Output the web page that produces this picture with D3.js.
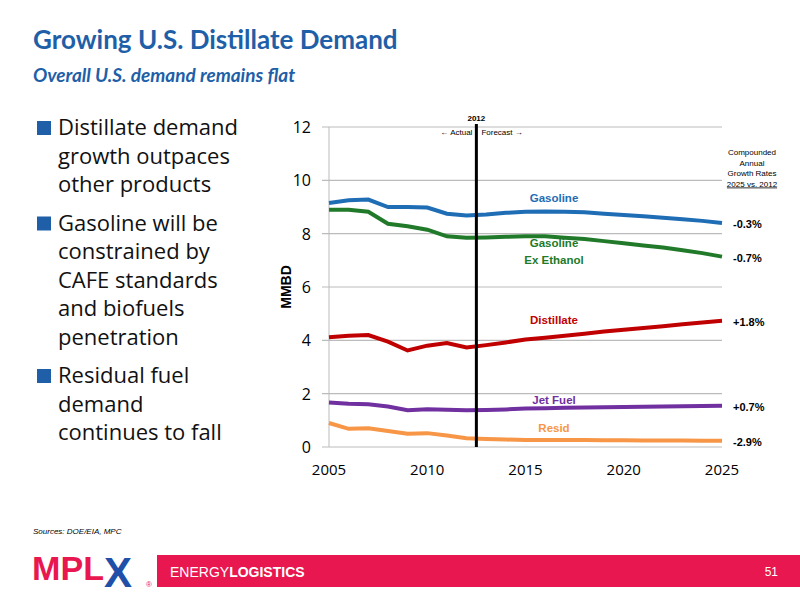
<!DOCTYPE html>
<html><head><meta charset="utf-8">
<script src="https://cdn.jsdelivr.net/npm/d3@7"></script>
<style>body{margin:0;background:#fff}</style></head>
<body><svg id="c" width="800" height="600"></svg>
<script>
const years = d3.range(2005, 2026);
const gasoline = [9.15,9.25,9.28,9.0,9.0,8.98,8.75,8.68,8.72,8.78,8.82,8.83,8.82,8.80,8.75,8.70,8.65,8.60,8.54,8.48,8.40];
const gasolineExEthanol = [8.9,8.9,8.82,8.37,8.28,8.15,7.9,7.85,7.86,7.88,7.9,7.9,7.85,7.8,7.72,7.64,7.56,7.48,7.38,7.27,7.14];
const distillate = [4.12,4.17,4.2,3.95,3.62,3.8,3.9,3.73,3.82,3.92,4.03,4.1,4.17,4.25,4.33,4.4,4.46,4.53,4.6,4.67,4.73];
const jetFuel = [1.67,1.62,1.6,1.52,1.38,1.42,1.4,1.38,1.39,1.41,1.44,1.45,1.47,1.48,1.49,1.5,1.51,1.52,1.53,1.54,1.55];
const resid = [0.9,0.68,0.7,0.6,0.5,0.52,0.43,0.33,0.3,0.28,0.26,0.26,0.26,0.26,0.25,0.25,0.24,0.24,0.24,0.23,0.23];
const yTicks = [0,2,4,6,8,10,12];
const xTicks = [2005,2010,2015,2020,2025];
const series = [
 {name:["Gasoline"], v:gasoline, c:"#1f6db5", rate:"-0.3%", lab:9.2},
 {name:["Gasoline","Ex Ethanol"], v:gasolineExEthanol, c:"#217a2a", rate:"-0.7%", lab:7.5},
 {name:["Distillate"], v:distillate, c:"#c00000", rate:"+1.8%", lab:4.6},
 {name:["Jet Fuel"], v:jetFuel, c:"#7030a0", rate:"+0.7%", lab:1.6},
 {name:["Resid"], v:resid, c:"#f79646", rate:"-2.9%", lab:0.55}
];
const svg = d3.select("#c");
const F = "Liberation Sans, Arial, sans-serif";
svg.append("text").attr("x",33).attr("y",49).attr("fill","#1f5fa8").attr("font-family","Lato, sans-serif").attr("font-weight","bold").attr("font-size",26).text("Growing U.S. Distillate Demand");
svg.append("text").attr("x",33).attr("y",82).attr("fill","#1f5fa8").attr("font-family","Lato, sans-serif").attr("font-weight","bold").attr("font-style","italic").attr("font-size",19).text("Overall U.S. demand remains flat");
const bullets=[["Distillate demand","growth outpaces","other products"],["Gasoline will be","constrained by","CAFE standards","and biofuels","penetration"],["Residual fuel","demand","continues to fall"]];
let by=135;
bullets.forEach(b=>{svg.append("rect").attr("x",37).attr("y",by-14).attr("width",14).attr("height",14).attr("fill","#1f5fa8");
 b.forEach((l,i)=>svg.append("text").attr("x",58).attr("y",by+i*28.5).attr("font-family","Open Sans, sans-serif").attr("font-size",22).attr("fill","#111").text(l));
 by+=b.length*28.5+10;});
const x=d3.scaleLinear().domain([2005,2025]).range([329,722]);
const y=d3.scaleLinear().domain([0,12]).range([447,127]);
svg.append("g").selectAll("line").data(yTicks).join("line").attr("x1",322).attr("x2",722).attr("y1",d=>y(d)).attr("y2",d=>y(d)).attr("stroke","#bbb").attr("stroke-width",1.2);
svg.append("g").selectAll("text").data(yTicks).join("text").attr("x",311).attr("y",d=>y(d)+6).attr("text-anchor","end").attr("font-family","Open Sans, sans-serif").attr("font-size",16).text(d=>d);
svg.append("line").attr("x1",329).attr("x2",329).attr("y1",127).attr("y2",447).attr("stroke","#bbb");
svg.append("g").selectAll("text").data(xTicks).join("text").attr("x",d=>x(d)).attr("y",475).attr("text-anchor","middle").attr("font-family","Open Sans, sans-serif").attr("font-size",15).text(d=>d);
svg.append("text").attr("transform","translate(291,287) rotate(-90)").attr("text-anchor","middle").attr("font-family",F).attr("font-weight","bold").attr("font-size",14).text("MMBD");
const line=d3.line().x((d,i)=>x(years[i])).y(d=>y(d));
series.forEach(s=>{
 svg.append("path").attr("d",line(s.v)).attr("fill","none").attr("stroke",s.c).attr("stroke-width",4);
 s.name.forEach((n,i)=>svg.append("text").attr("x",554).attr("y",y(s.lab)+i*17).attr("text-anchor","middle").attr("fill",s.c).attr("font-family",F).attr("font-weight","bold").attr("font-size",11.5).text(n));
 svg.append("text").attr("x",733).attr("y",y(s.v[20])+5).attr("font-family",F).attr("font-weight","bold").attr("font-size",11).text(s.rate);
});
svg.append("line").attr("x1",x(2012.5)).attr("x2",x(2012.5)).attr("y1",124).attr("y2",447).attr("stroke","#000").attr("stroke-width",3);
svg.append("text").attr("x",x(2012.5)).attr("y",121).attr("text-anchor","middle").attr("font-family",F).attr("font-weight","bold").attr("font-size",8).text("2012");
svg.append("text").attr("x",x(2012.5)-4).attr("y",135).attr("text-anchor","end").attr("font-family",F).attr("font-size",8).text("← Actual");
svg.append("text").attr("x",x(2012.5)+5).attr("y",135).attr("font-family",F).attr("font-size",8).text("Forecast →");
["Compounded","Annual","Growth Rates","2025 vs. 2012"].forEach((t,i)=>svg.append("text").attr("x",752).attr("y",155+i*10.5).attr("text-anchor","middle").attr("font-family",F).attr("font-size",8).attr("text-decoration",i==3?"underline":null).text(t));
svg.append("text").attr("x",33).attr("y",534).attr("font-family",F).attr("font-style","italic").attr("font-size",8).text("Sources:  DOE/EIA, MPC");
svg.append("rect").attr("x",157).attr("y",555).attr("width",643).attr("height",32).attr("fill","#e8174f");
svg.append("text").attr("x",170).attr("y",577).attr("fill","#fff").attr("font-family",F).attr("font-size",14).html('ENERGY<tspan font-weight="bold">LOGISTICS</tspan>');
svg.append("text").attr("x",778).attr("y",576).attr("text-anchor","end").attr("fill","#fff").attr("font-family",F).attr("font-size",12).text("51");
svg.append("text").attr("x",32).attr("y",580).attr("fill","#e8174f").attr("font-family",F).attr("font-weight","bold").attr("font-size",34).attr("textLength",72).attr("lengthAdjust","spacingAndGlyphs").text("MPL");
svg.append("text").attr("x",104).attr("y",587).attr("fill","#1f4fa8").attr("font-family",F).attr("font-weight","bold").attr("font-size",42).text("X");
svg.append("text").attr("x",146).attr("y",587).attr("fill","#e8174f").attr("font-family",F).attr("font-size",8).text("®");
</script></body></html>
